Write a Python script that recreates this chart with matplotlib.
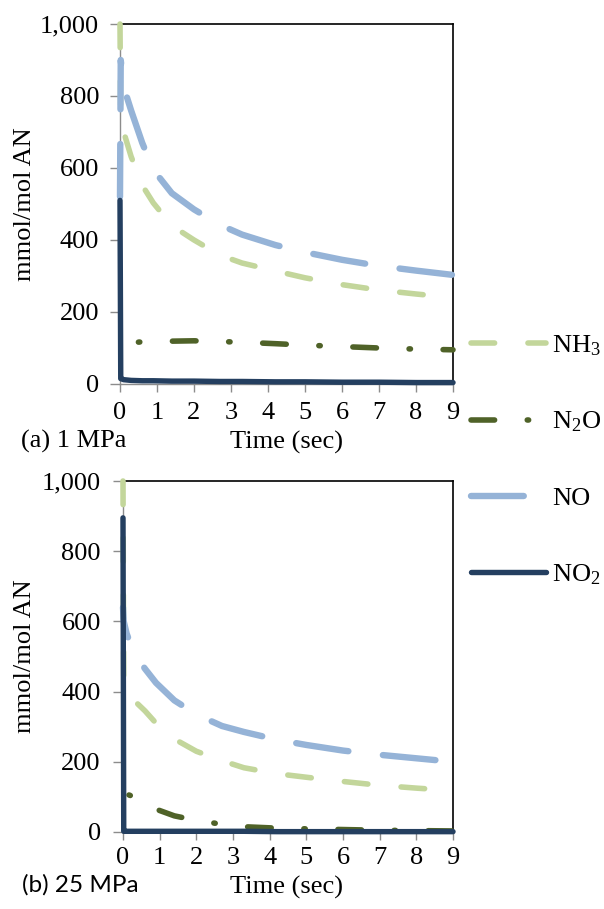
import matplotlib
matplotlib.use("Agg")
import matplotlib.pyplot as plt
from matplotlib.lines import Line2D

plt.rcParams['lines.scale_dashes'] = False
plt.rcParams['font.family'] = ['Liberation Serif', 'DejaVu Serif']
plt.rcParams['mathtext.fontset'] = 'custom'
plt.rcParams['mathtext.rm'] = 'Liberation Serif'
plt.rcParams['mathtext.it'] = 'Liberation Serif:italic'

# ---------------- data ----------------
species = [r'NH$_3$', r'N$_2$O', 'NO', r'NO$_2$']
x_ticks = [0, 1, 2, 3, 4, 5, 6, 7, 8, 9]
y_ticks = [0, 200, 400, 600, 800, 1000]
y_tick_labels = ['0', '200', '400', '600', '800', '1,000']

time_s = [0, 0.02, 0.1, 0.3, 0.6, 0.9, 1.4, 2, 2.7, 3.3, 4.2, 5, 6, 7, 8, 9]

# (a) 1 MPa
nh3_a = [1000, 720, 700, 632, 552, 503, 440, 400, 358, 336, 314, 295, 276, 261, 250, 240]
n2o_a = [100, 110, 112, 115, 117, 118, 119, 120, 118, 116, 112, 108, 104, 100, 97, 95]
no_a = [520, 900, 825, 760, 670, 595, 530, 485, 442, 415, 386, 366, 345, 328, 315, 303]
no2_a = [510, 15, 12, 10, 9, 9, 8, 8, 7, 7, 6, 6, 5, 5, 4, 4]

# (b) 25 MPa
nh3_b = [1000, 420, 400, 375, 345, 310, 265, 230, 203, 183, 166, 156, 144, 133, 125, 118]
n2o_b = [110, 110, 108, 100, 85, 65, 46, 33, 22, 15, 11, 9, 7, 5, 4, 3]
no_b = [640, 600, 565, 510, 465, 425, 375, 335, 302, 285, 263, 248, 232, 220, 210, 200]
no2_b = [895, 2, 2, 2, 2, 2, 2, 2, 2, 2, 1, 1, 1, 1, 1, 1]

panels = [
    ('(a) 1 MPa', [nh3_a, n2o_a, no_a, no2_a]),
    ('(b) 25 MPa', [nh3_b, n2o_b, no_b, no2_b]),
]

# ---------------- styles ----------------
colors = ['#C3D69B', '#4F6228', '#95B3D7', '#243F60']
widths = [4.0, 4.0, 4.6, 3.9]
patterns = [(17, 24), (17, 23.5, 1.0, 23.5), (38, 25), None]
offsets = [[0, 25, 0, 0], [0, 36, 16, 0]]
FS = 19

W, H = 604, 909
fig = plt.figure(figsize=(W / 100, H / 100), dpi=100)

def fx(px):
    return px / W

def fy(py):
    return 1 - py / H

def style(pat, off):
    return '-' if pat is None else (off, pat)

# axes boxes in pixels: left, right, top, bottom
boxes = [(120, 453, 24, 384), (123, 453, 481, 832)]
xpads = [7, 5]
ypads = [8, 9]
for i, ((title, series), (l, r, t, b)) in enumerate(zip(panels, boxes)):
    ax = fig.add_axes([fx(l), fy(b), fx(r - l), (b - t) / H])
    for j, (vals, c, lw, pat, name) in enumerate(zip(series, colors, widths,
                                                      patterns, species)):
        ax.plot(time_s, vals, color=c, lw=lw, ls=style(pat, offsets[i][j]),
                label=name, dash_capstyle='round', solid_capstyle='round',
                solid_joinstyle='round', clip_on=False, zorder=3)
    ax.set_xlim(0, 9)
    ax.set_ylim(0, 1000)
    ax.set_xticks(x_ticks)
    ax.set_xticklabels([str(v) for v in x_ticks])
    ax.set_yticks(y_ticks)
    ax.set_yticklabels(y_tick_labels)
    for s in ['top', 'right']:
        ax.spines[s].set_color('black')
        ax.spines[s].set_linewidth(1.2)
    for s in ['left', 'bottom']:
        ax.spines[s].set_color('#8C8C8C')
        ax.spines[s].set_linewidth(1.0)
    ax.tick_params(axis='x', direction='out', length=6, width=1.0,
                   color='#8C8C8C', labelsize=FS, pad=xpads[i])
    ax.tick_params(axis='y', direction='out', length=7, width=1.0,
                   color='#8C8C8C', labelsize=FS, pad=ypads[i])
    cy = (t + b) / 2
    fig.text(fx(25), fy(cy), 'mmol/mol AN', rotation=90, ha='center',
             va='center', fontsize=FS)

fig.text(fx(287), fy(442), 'Time (sec)', ha='center', va='center', fontsize=FS)
fig.text(fx(21), fy(441), '(a) 1 MPa', ha='left', va='center', fontsize=FS)
fig.text(fx(287), fy(887), 'Time (sec)', ha='center', va='center', fontsize=FS)
fig.text(fx(22), fy(885), '(b) 25 MPa', ha='left', va='center', fontsize=17.5,
         family=['Lato', 'DejaVu Sans'])

handles = [Line2D([], [], color=c, lw=lw, ls=style(pat, 0),
                  dash_capstyle='round', solid_capstyle='round')
           for c, lw, pat in zip(colors, widths, patterns)]
leg = fig.legend(handles=handles, labels=species, loc='upper left',
                 bbox_to_anchor=(fx(471), fy(333)), frameon=False,
                 fontsize=FS, handlelength=2.85, handletextpad=0.22,
                 labelspacing=1.98, borderaxespad=0, borderpad=0)

fig.savefig('out.png', dpi=100)
